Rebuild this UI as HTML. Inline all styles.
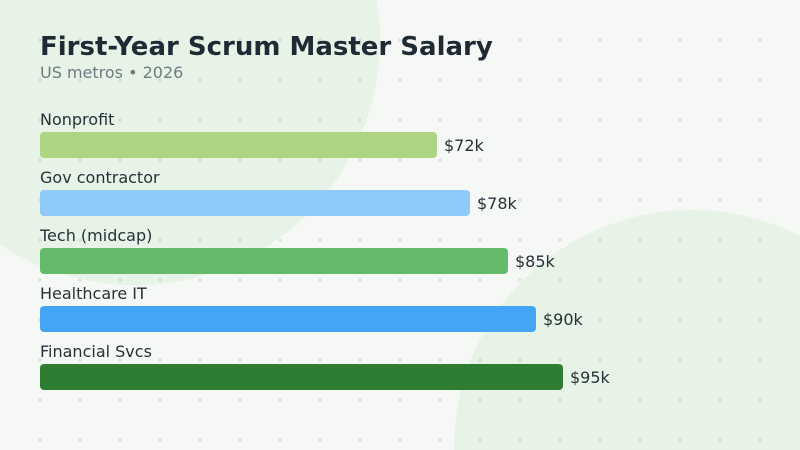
<!DOCTYPE html>
<html><head><meta charset="utf-8"><style>
html,body{margin:0;padding:0;overflow:hidden}
body{width:800px;height:450px;overflow:hidden;background:#f6f8f5;font-family:"DejaVu Sans","Liberation Sans",sans-serif}
svg{display:block}
</style></head><body>
<svg width="800" height="450" xmlns="http://www.w3.org/2000/svg" font-family="DejaVu Sans, Liberation Sans, sans-serif">
<rect width="800" height="450" fill="#f6f8f5"/>
<circle cx="135" cy="40" r="245" fill="#e6f3e6"/>
<circle cx="692" cy="448" r="238" fill="#e6f3e6"/>
<g id="dots" stroke="#ccd2cc" stroke-width="1"></g>
<g id="content" font-size="16" fill="#263238">
<text x="40" y="55" font-size="26" font-weight="bold" fill="#1f2a35">First-Year Scrum Master Salary</text>
<text x="40" y="78" font-size="16" fill="#6f7b80">US metros • 2026</text>
<text x="40" y="125">Nonprofit</text>
<rect x="40" y="132" width="397" height="26" rx="4" fill="#aed581"/>
<text x="444" y="151">$72k</text>
<text x="40" y="183">Gov contractor</text>
<rect x="40" y="190" width="430" height="26" rx="4" fill="#90caf9"/>
<text x="477" y="209">$78k</text>
<text x="40" y="241">Tech (midcap)</text>
<rect x="40" y="248" width="468" height="26" rx="4" fill="#66bb6a"/>
<text x="515" y="267">$85k</text>
<text x="40" y="299">Healthcare IT</text>
<rect x="40" y="306" width="496" height="26" rx="4" fill="#42a5f5"/>
<text x="543" y="325">$90k</text>
<text x="40" y="357">Financial Svcs</text>
<rect x="40" y="364" width="523" height="26" rx="4" fill="#2e7d32"/>
<text x="570" y="383">$95k</text>
</g>
</svg>
<script>
var g=document.getElementById('dots'),s='';
for(var x=40;x<=760;x+=40)for(var y=40;y<=440;y+=40){s+='<path d="M'+(x-1.5)+' '+y+'h3M'+x+' '+(y-1.5)+'v3"/>';}
g.innerHTML=s;
</script>
</body></html>
